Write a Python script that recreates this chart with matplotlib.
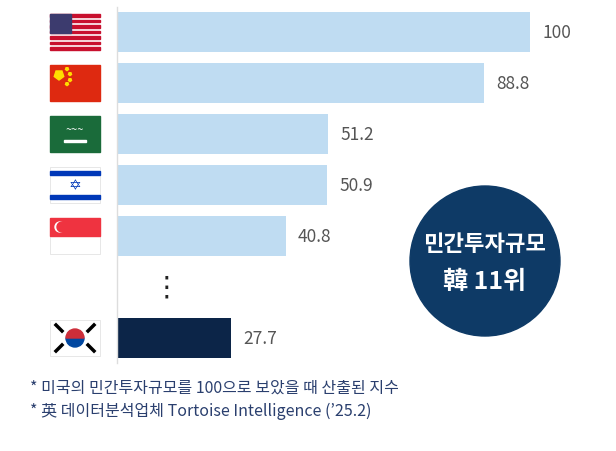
import matplotlib.pyplot as plt
from matplotlib.patches import Rectangle, Circle, RegularPolygon, Wedge

plt.rcParams["font.family"] = ["Noto Sans CJK KR", "Noto Sans CJK JP", "Noto Sans CJK SC",
                               "DejaVu Sans"]

# data
countries = ["US", "CN", "SA", "IL", "SG", "KR"]
rows = [0, 1, 2, 3, 4, 6]
values = [100, 88.8, 51.2, 50.9, 40.8, 27.7]
labels = ["100", "88.8", "51.2", "50.9", "40.8", "27.7"]
colors = ["#bfdcf2"] * 5 + ["#0c2548"]

W, H = 616, 452
fig = plt.figure(figsize=(W / 100, H / 100), dpi=100)

# bars axes: x from 117px to 530px, rows from 7.5px to 364.5px
ax = fig.add_axes([117 / W, 1 - 364.5 / H, (530 - 117) / W, (364.5 - 7.5) / H])
ax.barh(rows, values, height=0.8, color=colors)
for r, v, t in zip(rows, values, labels):
    ax.text(v + 3, r, t, va="center", ha="left", fontsize=12.5, color="#555555")
ax.text(12, 5, "⋮", ha="center", va="center", fontsize=20, color="#222222",
        fontfamily="DejaVu Sans")
ax.set_xlim(0, 100)
ax.set_ylim(6.5, -0.5)
ax.axis("off")
ax.plot([0, 0], [-0.5, 6.5], color="#dddddd", lw=1, clip_on=False)

# overlay in pixel coordinates for flags, circle and notes
ov = fig.add_axes([0, 0, 1, 1], zorder=2)
ov.set_xlim(0, W)
ov.set_ylim(H, 0)
ov.axis("off")
ov.patch.set_alpha(0)

fx, fw, fh = 50, 50, 36
def flag_box(y):
    return y - fh / 2

# US
y0 = flag_box(33)
for i in range(7):
    ov.add_patch(Rectangle((fx, y0 + i * fh / 13 * 2), fw, fh / 13, color="#c8102e"))
ov.add_patch(Rectangle((fx, y0), fw * 0.42, fh * 7 / 13, color="#3c3b6e"))
# China
y0 = flag_box(84)
ov.add_patch(Rectangle((fx, y0), fw, fh, color="#de2910"))
ov.add_patch(RegularPolygon((fx + 9, y0 + 10), 5, radius=5, color="#ffde00"))
for dx, dy in [(17, 4), (20, 9), (20, 15), (17, 19)]:
    ov.add_patch(RegularPolygon((fx + dx, y0 + dy), 5, radius=1.6, color="#ffde00"))
# Saudi
y0 = flag_box(135)
ov.add_patch(Rectangle((fx, y0), fw, fh, color="#1a6b3a"))
ov.add_patch(Rectangle((fx + 14, y0 + 24), 22, 2, color="white"))
ov.text(fx + 25, y0 + 13, "~~~", color="white", fontsize=8, ha="center", va="center")
# Israel
y0 = flag_box(186)
ov.add_patch(Rectangle((fx, y0), fw, fh, facecolor="white", edgecolor="#dddddd", lw=0.5))
ov.add_patch(Rectangle((fx, y0 + 4), fw, 4, color="#0038b8"))
ov.add_patch(Rectangle((fx, y0 + fh - 8), fw, 4, color="#0038b8"))
ov.text(fx + 25, y0 + fh / 2, "✡", color="#0038b8", fontsize=11, ha="center", va="center",
        fontfamily="DejaVu Sans")
# Singapore
y0 = flag_box(237)
ov.add_patch(Rectangle((fx, y0), fw, fh, facecolor="white", edgecolor="#dddddd", lw=0.5))
ov.add_patch(Rectangle((fx, y0), fw, fh / 2, color="#ef3340"))
ov.add_patch(Circle((fx + 10, y0 + 9), 5, color="white"))
ov.add_patch(Circle((fx + 12, y0 + 9), 5, color="#ef3340"))
# Korea
y0 = flag_box(339)
cx, cy = fx + 25, y0 + 18
ov.add_patch(Rectangle((fx, y0), fw, fh, facecolor="white", edgecolor="#dddddd", lw=0.5))
ov.add_patch(Wedge((cx, cy), 9, 0, 180, color="#0047a0"))
ov.add_patch(Wedge((cx, cy), 9, 180, 360, color="#cd2e3a"))
for dx, dy in [(-16, -10), (16, -10), (-16, 10), (16, 10)]:
    s = 1 if dx * dy > 0 else -1
    ov.plot([cx + dx - 3, cx + dx + 3], [cy + dy - 3 * s, cy + dy + 3 * s],
            color="black", lw=2.5)

# circle badge
ov.add_patch(Circle((485, 262), 75, color="#0e3a66"))
ov.text(485, 245, "민간투자규모", color="white", fontsize=16, fontweight="bold",
        ha="center", va="center")
ov.text(485, 282, "韓 11위", color="white", fontsize=18, fontweight="bold",
        ha="center", va="center")

# notes
ov.text(30, 388, "* 미국의 민간투자규모를 100으로 보았을 때 산출된 지수",
        color="#2a3f6e", fontsize=11.5, va="center")
ov.text(30, 411, "* 英 데이터분석업체 Tortoise Intelligence (’25.2)",
        color="#2a3f6e", fontsize=11.5, va="center")

fig.savefig("out.png", dpi=100)
